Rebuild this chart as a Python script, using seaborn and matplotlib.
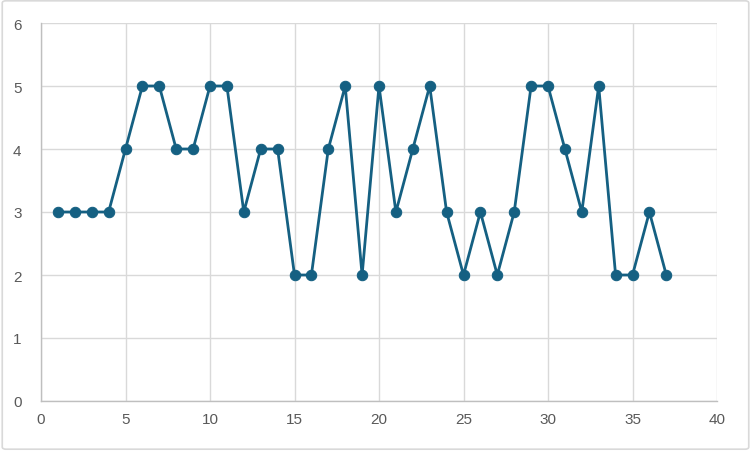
import matplotlib
matplotlib.use("Agg")
import matplotlib.pyplot as plt
import seaborn as sns
import pandas as pd
from matplotlib.patches import FancyBboxPatch

x_vals = list(range(1, 38))
y_vals = [3, 3, 3, 3, 4, 5, 5, 4, 4, 5, 5, 3, 4, 4, 2, 2, 4, 5, 2, 5,
          3, 4, 5, 3, 2, 3, 2, 3, 5, 5, 4, 3, 5, 2, 2, 3, 2]
x_ticks = [0, 5, 10, 15, 20, 25, 30, 35, 40]
y_ticks = [0, 1, 2, 3, 4, 5, 6]

df = pd.DataFrame({"x": x_vals, "y": y_vals})

sns.set_theme(style="white")
plt.rcParams['font.family'] = ['Liberation Sans', 'DejaVu Sans']

fig = plt.figure(figsize=(7.51, 4.52), dpi=100)
ax = fig.add_axes([41/751, 50/452, (717-41)/751, (402-24)/452])

color = "#156082"
sns.lineplot(data=df, x="x", y="y", ax=ax, color=color, linewidth=2.0,
             marker="o", markersize=7.5, markeredgecolor=color,
             markerfacecolor=color, zorder=3)

ax.set_xlim(0, 40)
ax.set_ylim(0, 6)
ax.set_xticks(x_ticks)
ax.set_yticks(y_ticks)
ax.grid(True, color="#d9d9d9", linewidth=1.0, zorder=0)
ax.set_axisbelow(True)
for s in ["top", "right"]:
    ax.spines[s].set_visible(False)
for s in ["left", "bottom"]:
    ax.spines[s].set_color("#bfbfbf")
    ax.spines[s].set_linewidth(1.0)
ax.tick_params(axis="both", length=0, labelsize=11, labelcolor="#595959", pad=14)
ax.tick_params(axis="x", pad=8)
ax.set_xlabel("")
ax.set_ylabel("")

border = FancyBboxPatch((0.003, 0.004), 0.994, 0.992, boxstyle="round,pad=0,rounding_size=0.005",
                        transform=fig.transFigure, fill=False, edgecolor="#d9d9d9",
                        linewidth=1.2)
fig.patches.append(border)

fig.savefig("out.png", dpi=100)
